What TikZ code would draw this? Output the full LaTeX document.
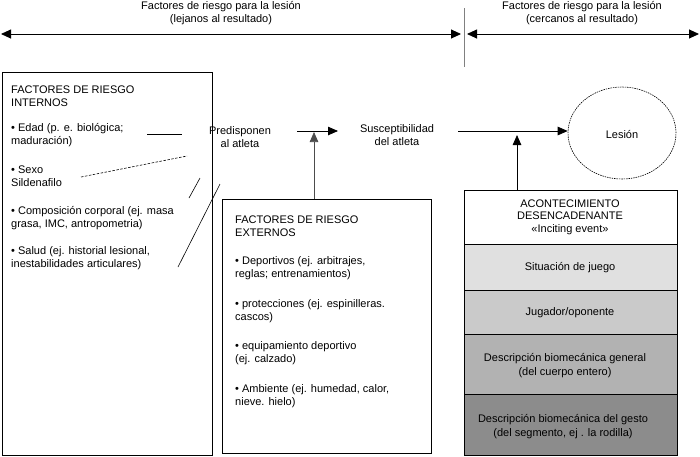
\documentclass[tikz,border=0pt]{standalone}
\usepackage{fontspec}
\setmainfont{Liberation Sans}
\usetikzlibrary{arrows.meta,shapes.geometric}
\definecolor{rowa}{RGB}{224,224,224}
\definecolor{rowb}{RGB}{202,202,202}
\definecolor{rowc}{RGB}{178,178,178}
\definecolor{rowd}{RGB}{140,140,140}
\tikzset{
  txt/.style={inner sep=0pt, font=\fontsize{11}{13}\selectfont, align=left, anchor=west},
  ctxt/.style={inner sep=0pt, font=\fontsize{11}{13}\selectfont, align=center},
  frame/.style={draw=black, line width=0.8pt, inner sep=0pt, anchor=north west},
  tip/.style={-{Triangle[length=10pt,width=8.5pt]}},
  dbl/.style={{Triangle[length=10pt,width=9pt]}-{Triangle[length=10pt,width=9pt]}, line width=0.9pt},
  thinline/.style={line width=0.6pt},
}
\begin{document}
\begin{tikzpicture}[x=1pt,y=-1pt]
\useasboundingbox (0,0) rectangle (700,456);
% top labels and arrows
\node[ctxt] (t1) at (221,13) {Factores de riesgo para la lesión\\(lejanos al resultado)};
\node[ctxt] (t2) at (582,13) {Factores de riesgo para la lesión\\(cercanos al resultado)};
\coordinate (aL) at (1,34);
\coordinate (aM1) at (461,34);
\coordinate (aM2) at (467,34);
\coordinate (aR) at (699,34);
\draw[dbl] (aL) -- (aM1);
\draw[dbl] (aM2) -- (aR);
\coordinate (v1) at (464,8);
\coordinate (v2) at (464,67);
\draw[gray, line width=0.5pt] (v1) -- (v2);

% internal factors box
\node[frame, minimum width=210pt, minimum height=383pt] (ib) at (2,72) {};
\node[txt] (i0) at (11,96.5) {FACTORES DE RIESGO\\INTERNOS};
\node[txt] (i1) at (11,135) {• Edad (p. e. biológica;\\maduración)};
\node[txt] (i2) at (11,176) {• Sexo\\Sildenafilo};
\node[txt] (i3) at (11,218.5) {• Composición corporal (ej. masa\\grasa, IMC, antropometria)};
\node[txt] (i4) at (11,258.5) {• Salud (ej. historial lesional,\\inestabilidades articulares)};
\coordinate (l1a) at (147,134); \coordinate (l1b) at (182,134);
\coordinate (l2a) at (81,177); \coordinate (l2b) at (187,156);
\coordinate (l3a) at (189,198); \coordinate (l3b) at (200,178);
\coordinate (l4a) at (178,267); \coordinate (l4b) at (220,184);
\draw[thinline] (l1a) -- (l1b);
\draw[thinline, dash pattern=on 2.5pt off 1.5pt] (l2a) -- (l2b);
\draw[thinline] (l3a) -- (l3b);
\draw[thinline] (l4a) -- (l4b);

% middle
\node[ctxt] (pred) at (240,137) {Predisponen\\al atleta};
\node[ctxt] (susc) at (397,135) {Susceptibilidad\\del atleta};
\coordinate (h1a) at (297,131); \coordinate (h1b) at (338,131);
\draw[tip, line width=0.8pt] (h1a) -- (h1b);

% external factors box
\node[frame, minimum width=209pt, minimum height=254pt] (eb) at (222,199) {};
\node[txt] (e0) at (235,226.5) {FACTORES DE RIESGO\\EXTERNOS};
\node[txt] (e1) at (235,268.5) {• Deportivos (ej. arbitrajes,\\reglas; entrenamientos)};
\node[txt] (e2) at (235,311.5) {• protecciones (ej. espinilleras.\\cascos)};
\node[txt] (e3) at (235,353) {• equipamiento deportivo\\(ej. calzado)};
\node[txt] (e4) at (235,396.5) {• Ambiente (ej. humedad, calor,\\nieve. hielo)};
\draw[tip, gray!60!black, line width=0.7pt] (eb.north -| 314,0) -- (314,132);

% lesion
\node[draw, ellipse, dash pattern=on 1.5pt off 0.9pt, line width=0.6pt, minimum width=108pt, minimum height=92pt, inner sep=0pt] (les) at (622,133) {};
\node[ctxt] (lest) at (622,134) {Lesión};
\coordinate (h2a) at (458,131);
\draw[tip, line width=0.8pt] (h2a) -- (les.west |- h2a);

% inciting event box
\node[frame, fill=white, minimum width=213pt, minimum height=54pt] (r0) at (464,190) {};
\node[frame, fill=rowa, minimum width=213pt, minimum height=46pt] (r1) at (464,244) {};
\node[frame, fill=rowb, minimum width=213pt, minimum height=44pt] (r2) at (464,290) {};
\node[frame, fill=rowc, minimum width=213pt, minimum height=60pt] (r3) at (464,334) {};
\node[frame, fill=rowd, minimum width=213pt, minimum height=61pt] (r4) at (464,394) {};
\node[ctxt, font=\fontsize{11}{12.5}\selectfont] (r0t) at (570,217) {ACONTECIMIENTO\\DESENCADENANTE\\«Inciting event»};
\node[ctxt] (r1t) at (570,268) {Situación de juego};
\node[ctxt] (r2t) at (570,313) {Jugador/oponente};
\node[ctxt, font=\fontsize{11}{14}\selectfont] (r3t) at (565,366) {Descripción biomecánica general\\(del cuerpo entero)};
\node[ctxt, font=\fontsize{11}{14}\selectfont] (r4t) at (563,427) {Descripción biomecánica del gesto\\(del segmento, ej . la rodilla)};
\draw[tip, line width=0.8pt] (r0.north -| 517,0) -- (517,135);
\end{tikzpicture}
\end{document}
